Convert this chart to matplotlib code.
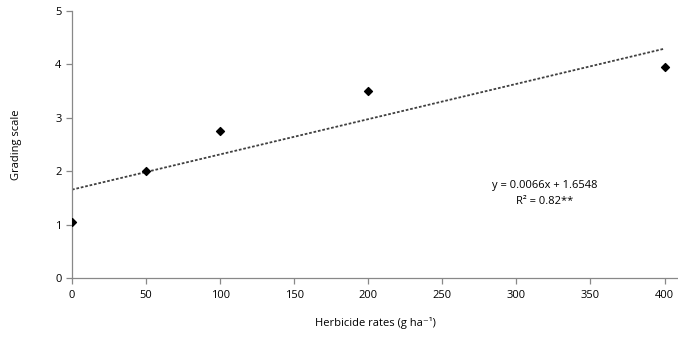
import matplotlib

matplotlib.use("Agg")

import matplotlib.pyplot as plt
import numpy as np

rates = [0, 50, 100, 200, 400]
grading = [1.05, 2.0, 2.75, 3.5, 3.95]
slope = 0.0066
intercept = 1.6548
x_ticks = [0, 50, 100, 150, 200, 250, 300, 350, 400]
y_ticks = [0, 1, 2, 3, 4, 5]

plt.rcParams["font.family"] = ["Open Sans", "DejaVu Sans"]

fig = plt.figure(figsize=(6.78, 3.42), dpi=100)
ax = fig.add_axes([72 / 678, 1 - 278 / 342, 1 - 72 / 678 + 0.002, (278 - 11) / 342])

# linear trendline over the measured range
fit_x = np.array([0, 400])
ax.plot(fit_x, slope * fit_x + intercept, linestyle=(0, (1.5, 1)), color="#404040", lw=1.3)
ax.scatter(rates, grading, marker="D", s=16, color="black", zorder=3)

ax.set_xlim(0, 410)
ax.set_ylim(0, 5)
ax.set_xticks(x_ticks)
ax.set_yticks(y_ticks)
for s in ["top", "right"]:
    ax.spines[s].set_visible(False)
for s in ["left", "bottom"]:
    ax.spines[s].set_color("#888888")
    ax.spines[s].set_linewidth(0.9)
ax.tick_params(colors="#888888", labelcolor="black", labelsize=8, length=4, width=0.9)
ax.tick_params(axis="x", pad=5)

ax.set_xlabel("Herbicide rates (g ha\u207b\u00b9)", fontsize=8, labelpad=11)
ax.set_ylabel("Grading scale", fontsize=8, labelpad=24)

fig.text(545 / 678, 1 - 185 / 342, "y = 0.0066x + 1.6548", fontsize=8, ha="center", va="center")
fig.text(545 / 678, 1 - 201 / 342, "R\u00b2 = 0.82**", fontsize=8, ha="center", va="center")

fig.savefig("out.png", dpi=100)
